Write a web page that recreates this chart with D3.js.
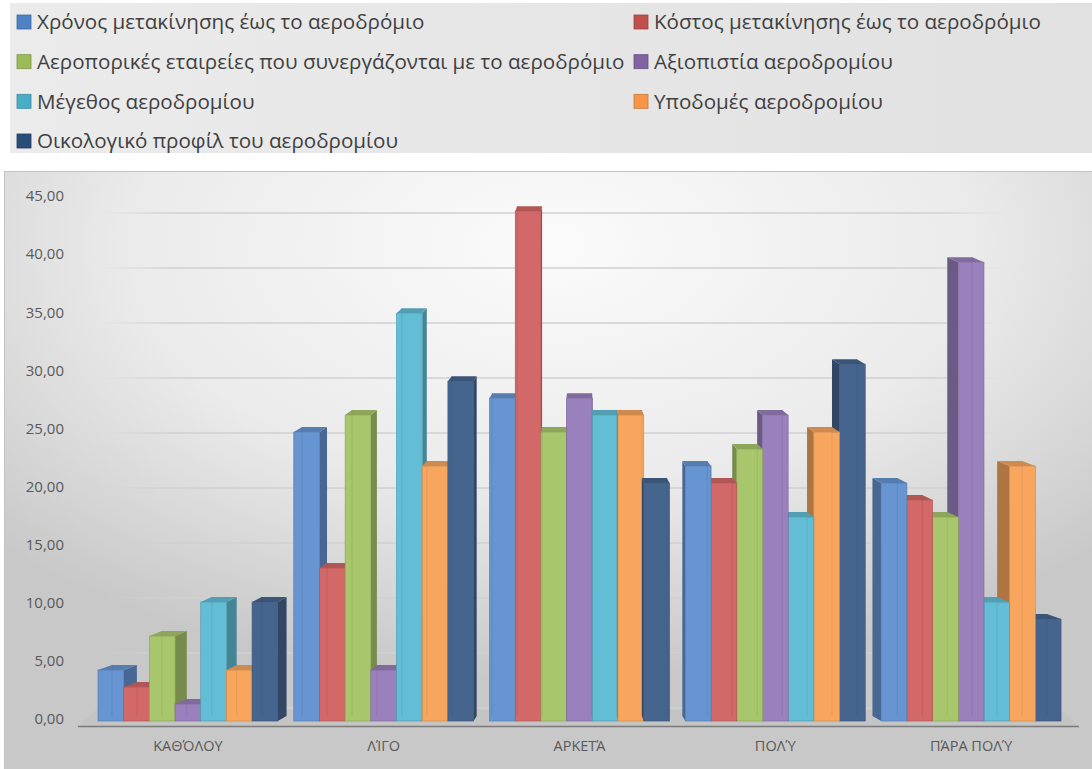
<!DOCTYPE html>
<html>
<head>
<meta charset="utf-8">
<script src="https://cdn.jsdelivr.net/npm/d3@7"></script>
<style>
  body { margin: 0; background: #fff; }
  svg text { font-family: "Open Sans", "Noto Sans", sans-serif; }
</style>
</head>
<body>
<div id="chart"></div>
<script>
// answers per rating, % of respondents
var categories = ["ΚΑΘΌΛΟΥ", "ΛΊΓΟ", "ΑΡΚΕΤΆ", "ΠΟΛΎ", "ΠΆΡΑ ΠΟΛΎ"];
var seriesNames = [
  "Χρόνος μετακίνησης έως το αεροδρόμιο",
  "Κόστος μετακίνησης έως το αεροδρόμιο",
  "Αεροπορικές εταιρείες που συνεργάζονται με το αεροδρόμιο",
  "Αξιοπιστία αεροδρομίου",
  "Μέγεθος αεροδρομίου",
  "Υποδομές αεροδρομίου",
  "Οικολογικό προφίλ του αεροδρομίου"
];
var travelTime     = [4.41, 25.00, 27.94, 22.06, 20.59];
var travelCost     = [2.94, 13.24, 44.12, 20.59, 19.12];
var airlines       = [7.35, 26.47, 25.00, 23.53, 17.65];
var reliability    = [1.47, 4.41, 27.94, 26.47, 39.71];
var airportSize    = [10.29, 35.29, 26.47, 17.65, 10.29];
var infrastructure = [4.41, 22.06, 26.47, 25.00, 22.06];
var ecoProfile     = [10.29, 29.41, 20.59, 30.88, 8.82];
var yTicks = [0, 5, 10, 15, 20, 25, 30, 35, 40, 45];

var series = [travelTime, travelCost, airlines, reliability, airportSize, infrastructure, ecoProfile];
var barColors = ["#6795d2", "#d26867", "#a8c66c", "#9a80bc", "#62bdd5", "#f8a65e", "#46658e"];
var keyColors = ["#4f81c4", "#c0504d", "#9bbb59", "#8064a2", "#4bacc6", "#f79646", "#2a4c78"];

document.addEventListener('DOMContentLoaded', function () {
  drawChart();
});

function drawChart() {
  var width = 1092, height = 769;
  var svg = d3.select('#chart').append('svg')
      .attr('width', width)
      .attr('height', height);

  var defs = svg.append('defs');
  var lg = defs.append('linearGradient').attr('id', 'legendBg');
  lg.append('stop').attr('offset', '0%').attr('stop-color', '#ebebeb');
  lg.append('stop').attr('offset', '100%').attr('stop-color', '#e1e1e1');

  var rg = defs.append('radialGradient').attr('id', 'plotBg')
      .attr('cx', '50%').attr('cy', '12%').attr('r', '70%');
  rg.append('stop').attr('offset', '0%').attr('stop-color', '#fbfbfb');
  rg.append('stop').attr('offset', '55%').attr('stop-color', '#ebebeb');
  rg.append('stop').attr('offset', '100%').attr('stop-color', '#c8c8c8');

  var gg = defs.append('linearGradient').attr('id', 'gridFade')
      .attr('gradientUnits', 'userSpaceOnUse')
      .attr('x1', 100).attr('x2', 1005);
  gg.append('stop').attr('offset', '0%').attr('stop-color', '#d0d0d0').attr('stop-opacity', 0);
  gg.append('stop').attr('offset', '8%').attr('stop-color', '#d0d0d0').attr('stop-opacity', 1);
  gg.append('stop').attr('offset', '92%').attr('stop-color', '#d0d0d0').attr('stop-opacity', 1);
  gg.append('stop').attr('offset', '100%').attr('stop-color', '#d0d0d0').attr('stop-opacity', 0);

  // legend panel
  svg.append('rect')
    .attr('x', 10).attr('y', 3)
    .attr('width', width - 10).attr('height', 150)
    .attr('fill', 'url(#legendBg)');

  var legend = svg.append('g').attr('class', 'legend');
  var colX = [17, 634];
  var rowY = d3.scalePoint().domain([0, 1, 2, 3]).range([22, 141]);
  seriesNames.forEach(function (name, i) {
    var item = legend.append('g')
        .attr('transform', 'translate(' + colX[i % 2] + ',' + rowY(Math.floor(i / 2)) + ')');
    item.append('rect')
      .attr('x', 0).attr('y', -7)
      .attr('width', 14).attr('height', 14)
      .attr('fill', keyColors[i])
      .attr('stroke', d3.color(keyColors[i]).darker(0.6))
      .attr('stroke-width', 0.8);
    item.append('text')
      .attr('x', 20).attr('y', 0)
      .attr('dy', '0.35em')
      .attr('font-size', 20.6)
      .attr('fill', '#3f3f3f')
      .text(name);
  });

  // chart panel
  svg.append('rect')
    .attr('x', 4.5).attr('y', 171.5)
    .attr('width', width).attr('height', 620)
    .attr('fill', 'url(#plotBg)')
    .attr('stroke', '#c3c3c3');

  var yBar = d3.scaleLinear().domain([0, 45]).range([721, 201]);
  var yBack = d3.scaleLinear().domain([0, 45]).range([708, 213]);
  var yLabel = d3.scaleLinear().domain([0, 45]).range([719, 196]);

  var xGroup = d3.scaleBand()
      .domain(categories)
      .range([90, 1069])
      .paddingInner(0.0816)
      .paddingOuter(0.0408);
  var xSeries = d3.scaleBand()
      .domain(d3.range(series.length))
      .range([0, xGroup.bandwidth()]);

  // back wall gridlines
  svg.append('g').attr('class', 'grid')
    .selectAll('line')
    .data(yTicks)
    .enter().append('line')
    .attr('x1', 100).attr('x2', 1005)
    .attr('y1', function (d) { return yBack(d); })
    .attr('y2', function (d) { return yBack(d); })
    .attr('stroke', 'url(#gridFade)')
    .attr('stroke-width', 1.6);

  // floor
  var floorBack = yBack(0) + 2, floorFront = yBar(0) + 5;
  svg.append('path')
    .attr('d', 'M' + (xGroup.range()[0] - 12) + ',' + floorFront +
               'L' + (xGroup.range()[1] + 10) + ',' + floorFront +
               'L' + (xGroup.range()[1] - 8) + ',' + floorBack +
               'L' + (xGroup.range()[0] + 6) + ',' + floorBack + 'Z')
    .attr('fill', '#c4c4c4');
  svg.append('line')
    .attr('x1', xGroup.range()[0] - 12).attr('x2', xGroup.range()[1] + 10)
    .attr('y1', floorFront + 0.5).attr('y2', floorFront + 0.5)
    .attr('stroke', '#7a7a7a').attr('stroke-width', 1.6);

  // 3d bars
  var vx = xGroup('ΑΡΚΕΤΆ') + xGroup.bandwidth() / 2;
  var depthK = 0.029, depthY = -5;
  function dxAt(x) { return (vx - x) * depthK; }

  var bars = [];
  categories.forEach(function (c, ci) {
    var leftSide = xGroup(c) + xGroup.bandwidth() / 2 > vx;
    series.forEach(function (vals, si) {
      var x0 = xGroup(c) + xSeries(si);
      bars.push({
        c: ci, s: si, v: vals[ci],
        x0: x0, x1: x0 + xSeries.bandwidth(),
        y: yBar(vals[ci]), base: yBar(0),
        order: ci * 100 + (leftSide ? series.length - si : si)
      });
    });
  });
  bars.sort(function (a, b) { return a.order - b.order; });

  var barG = svg.append('g').attr('class', 'bars')
    .selectAll('g')
    .data(bars)
    .enter().append('g');

  barG.append('path')
    .attr('class', 'side')
    .attr('d', function (d) {
      var sx = (d.x0 + d.x1) / 2 < vx ? d.x1 : d.x0;
      var dx = dxAt(sx);
      return 'M' + sx + ',' + d.y + 'L' + (sx + dx) + ',' + (d.y + depthY) +
             'L' + (sx + dx) + ',' + (d.base + depthY) + 'L' + sx + ',' + d.base + 'Z';
    })
    .attr('fill', function (d) { return d3.color(barColors[d.s]).darker(1.0); });

  barG.append('path')
    .attr('class', 'top')
    .attr('d', function (d) {
      return 'M' + d.x0 + ',' + d.y + 'L' + d.x1 + ',' + d.y +
             'L' + (d.x1 + dxAt(d.x1)) + ',' + (d.y + depthY) +
             'L' + (d.x0 + dxAt(d.x0)) + ',' + (d.y + depthY) + 'Z';
    })
    .attr('fill', function (d) { return d3.color(barColors[d.s]).darker(0.5); });

  barG.append('rect')
    .attr('class', 'front')
    .attr('x', function (d) { return d.x0; })
    .attr('y', function (d) { return d.y; })
    .attr('width', function (d) { return d.x1 - d.x0; })
    .attr('height', function (d) { return d.base - d.y; })
    .attr('fill', function (d) { return barColors[d.s]; })
    .attr('stroke', function (d) { return d3.color(barColors[d.s]).darker(0.5); })
    .attr('stroke-width', 0.7);

  // back edge seen through the glassy front
  barG.append('line')
    .attr('x1', function (d) { return (d.x0 + d.x1) / 2 < vx ? d.x0 + dxAt(d.x0) : d.x1 + dxAt(d.x1); })
    .attr('x2', function (d) { return (d.x0 + d.x1) / 2 < vx ? d.x0 + dxAt(d.x0) : d.x1 + dxAt(d.x1); })
    .attr('y1', function (d) { return d.y + depthY; })
    .attr('y2', function (d) { return d.base + depthY; })
    .attr('stroke', function (d) { return d3.color(barColors[d.s]).darker(0.6); })
    .attr('stroke-opacity', 0.35)
    .attr('stroke-width', 1);

  // axes
  var fmt = d3.formatLocale({decimal: ",", thousands: ".", grouping: [3], currency: ["", "€"]}).format(".2f");
  var yAxis = d3.axisLeft(yLabel)
      .tickValues(yTicks)
      .tickSize(0)
      .tickPadding(0)
      .tickFormat(fmt);
  var yAxisG = svg.append('g')
      .attr('class', 'y axis')
      .attr('transform', 'translate(64,0)')
      .call(yAxis);
  yAxisG.select('.domain').remove();
  yAxisG.selectAll('text')
    .attr('font-size', 15)
    .attr('fill', '#595959')
    .style('font-family', '"Open Sans", sans-serif');

  var xAxis = d3.axisBottom(xGroup).tickSize(0).tickPadding(0);
  var xAxisG = svg.append('g')
      .attr('class', 'x axis')
      .attr('transform', 'translate(0,741)')
      .call(xAxis);
  xAxisG.select('.domain').remove();
  xAxisG.selectAll('text')
    .attr('font-size', 14.5)
    .attr('fill', '#595959')
    .style('font-family', '"Open Sans", sans-serif');
}
</script>
</body>
</html>
